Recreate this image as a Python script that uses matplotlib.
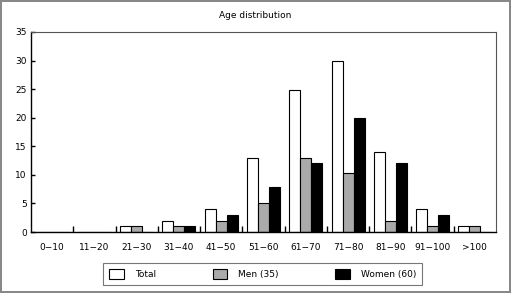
import matplotlib.pyplot as plt
import numpy as np

groups = ['0-10', '11-20', '21-30', '31-40', '41-50', '51-60',
          '61-70', '71-80', '81-90', '91-100', '>100']
total = [0, 0, 1, 2, 4, 13, 24.8, 30, 14, 4, 1]
men = [0, 0, 1, 1, 2, 5, 13, 10.3, 2, 1, 1]
women = [0, 0, 0, 1, 3, 7.8, 12, 20, 12, 3, 0]

plt.rcParams['font.family'] = 'DejaVu Sans'
plt.rcParams['font.size'] = 6.5

fig = plt.figure(figsize=(5.11, 2.93), dpi=100)
fig.patch.set_edgecolor('#888888')
fig.patch.set_linewidth(1.5)
ax = fig.add_axes([0.0607, 0.208, 0.9099, 0.683])

x = np.arange(len(groups))
w = 0.26
ax.bar(x - w, total, w, color='white', edgecolor='black', linewidth=0.8, label='Total')
ax.bar(x, men, w, color='#aaaaaa', edgecolor='black', linewidth=0.8, label='Men (35)')
ax.bar(x + w, women, w, color='black', edgecolor='black', linewidth=0.8, label='Women (60)')

ax.set_xlim(-0.5, len(groups) - 0.5)
ax.set_ylim(0, 35)
ax.set_yticks(range(0, 36, 5))
ax.set_xticks(x)
ax.set_xticklabels([g.replace('-', '\u2212') for g in groups])
ax.set_xticks(x[:-1] + 0.5, minor=True)
ax.tick_params(axis='x', which='major', length=0, pad=8)
ax.tick_params(axis='x', which='minor', direction='in', length=4, width=1)
ax.tick_params(axis='y', direction='in', length=3, width=1, pad=3)
for s in ['top', 'right']:
    ax.spines[s].set_color('#555555')
    ax.spines[s].set_linewidth(0.8)
for s in ['left', 'bottom']:
    ax.spines[s].set_linewidth(1)

fig.text(0.5, 0.948, 'Age distribution', ha='center', va='center', fontsize=6.5)

leg = fig.legend(loc='center', bbox_to_anchor=(0.514, 0.065), ncol=3,
                 fancybox=False, edgecolor='#555555', handlelength=1.6,
                 handleheight=1.3, columnspacing=6.3, handletextpad=1.2,
                 borderpad=0.7, borderaxespad=0)
leg.get_frame().set_linewidth(0.8)

plt.savefig('out.png', dpi=100)
